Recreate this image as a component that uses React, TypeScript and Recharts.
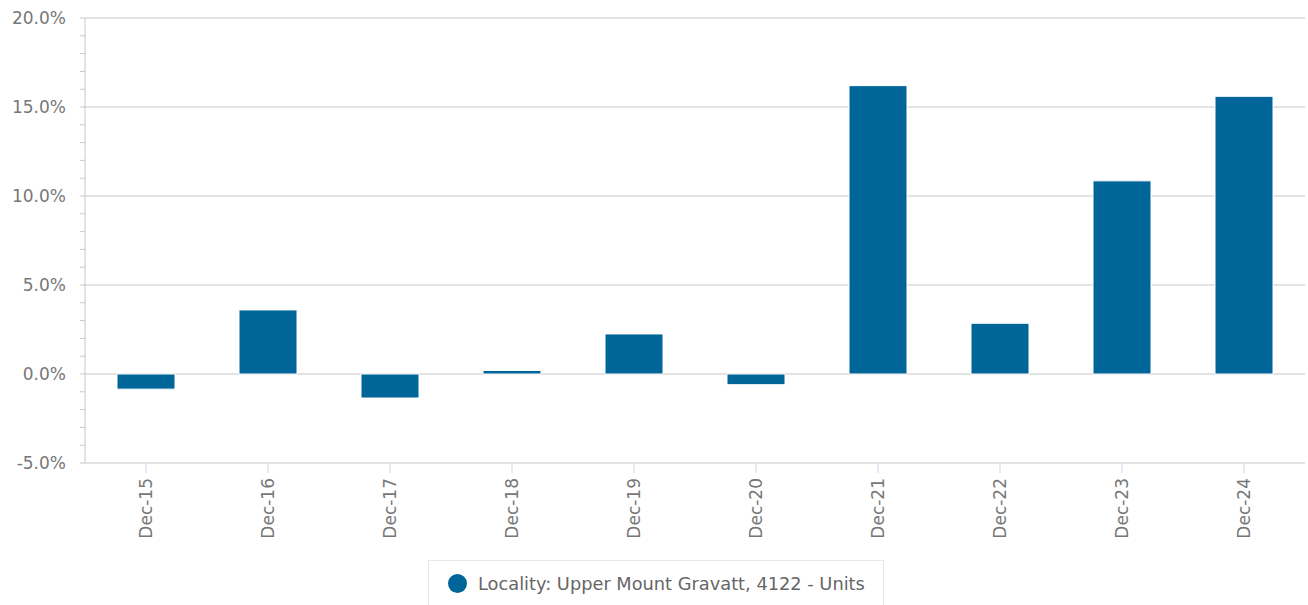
import React from "react";
import { BarChart, Bar, CartesianGrid, XAxis, YAxis, Legend } from "recharts";

const categories = ["Dec-15", "Dec-16", "Dec-17", "Dec-18", "Dec-19", "Dec-20", "Dec-21", "Dec-22", "Dec-23", "Dec-24"];
const growth = [-0.85, 3.6, -1.35, 0.2, 2.25, -0.6, 16.2, 2.85, 10.85, 15.6];
const yTicks = [-5, -4, -3, -2, -1, 0, 1, 2, 3, 4, 5, 6, 7, 8, 9, 10, 11, 12, 13, 14, 15, 16, 17, 18, 19, 20];
const gridValues = [0, 5, 10, 15, 20];
const seriesName = "Locality: Upper Mount Gravatt, 4122 - Units";

const data = categories.map((cat, i) => ({ cat, value: growth[i] }));

const FONT = "DejaVu Sans, sans-serif";
const BAR_COLOR = "#006699";

const YTick = (props: any) => {
  const { x, y, payload } = props;
  if (payload.value % 5 !== 0) return null;
  return (
    <text x={x} y={y} dy="0.35em" textAnchor="end" fill="#777" fontSize={17} fontFamily={FONT}>
      {payload.value.toFixed(1)}%
    </text>
  );
};

const XTick = (props: any) => {
  const { x, y, payload } = props;
  return (
    <text
      x={x}
      y={y}
      dy="0.35em"
      textAnchor="end"
      transform={`rotate(-90, ${x}, ${y})`}
      fill="#777"
      fontSize={17}
      fontFamily={FONT}
    >
      {payload.value}
    </text>
  );
};

const LegendBox = () => (
  <div style={{ height: 52, position: "relative" }}>
    <div
      style={{
        position: "absolute",
        left: 428,
        top: 7,
        width: 456,
        height: 45,
        border: "1px solid #e8e8e8",
        borderBottom: "none",
        boxSizing: "border-box",
        fontFamily: FONT,
      }}
    >
      <span
        style={{
          position: "absolute",
          left: 19,
          top: 13,
          width: 19,
          height: 19,
          borderRadius: "50%",
          background: BAR_COLOR,
        }}
      />
      <span
        style={{
          position: "absolute",
          left: 49,
          top: 12,
          fontSize: 17.8,
          lineHeight: "22px",
          color: "#666",
          whiteSpace: "nowrap",
        }}
      >
        {seriesName}
      </span>
    </div>
  </div>
);

const App = () => (
  <div style={{ position: "absolute", left: 0, top: 0, background: "#fff" }}>
    <BarChart width={1308} height={605} data={data} margin={{ top: 18, right: 3, left: 0, bottom: 0 }}>
      <CartesianGrid vertical={false} stroke="#c8c8c8" horizontalValues={gridValues} />
      <XAxis
        dataKey="cat"
        height={90}
        interval={0}
        axisLine={{ stroke: "#c8c8c8" }}
        tickLine={{ stroke: "#ccd6eb" }}
        tickSize={10}
        tickMargin={5}
        tick={<XTick />}
      />
      <YAxis
        width={85}
        domain={[-5, 20]}
        ticks={yTicks}
        interval={0}
        allowDataOverflow
        axisLine={{ stroke: "#c8c8c8" }}
        tickLine={{ stroke: "#c8c8c8" }}
        tickSize={5}
        tickMargin={14}
        tick={<YTick />}
      />
      <Legend verticalAlign="bottom" content={<LegendBox />} />
      <Bar dataKey="value" name={seriesName} fill={BAR_COLOR} stroke="#ffffff" strokeWidth={1} barSize={58} isAnimationActive={false} />
    </BarChart>
  </div>
);

export default App;
